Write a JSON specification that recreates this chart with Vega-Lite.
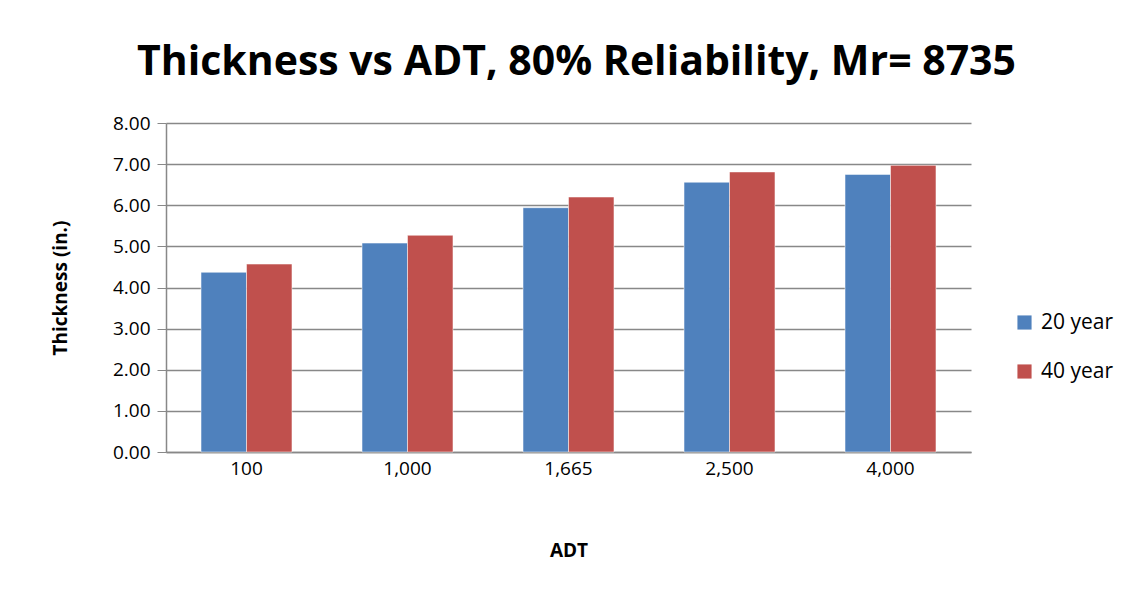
{
  "$schema": "https://vega.github.io/schema/vega-lite/v6.json",
  "autosize": {"type": "none"},
  "width": 805,
  "height": 329,
  "padding": {"left": 166, "top": 123, "right": 160, "bottom": 141},
  "background": "white",
  "title": {
    "text": "Thickness vs ADT, 80% Reliability, Mr= 8735",
    "font": "Open Sans",
    "fontSize": 41,
    "fontWeight": "bold",
    "color": "#000000",
    "anchor": "middle",
    "dx": 8,
    "offset": 30
  },
  "data": {
    "values": [
      {"ADT": "100", "Period": "20 year", "Thickness": 4.37},
      {"ADT": "100", "Period": "40 year", "Thickness": 4.57},
      {"ADT": "1,000", "Period": "20 year", "Thickness": 5.08},
      {"ADT": "1,000", "Period": "40 year", "Thickness": 5.27},
      {"ADT": "1,665", "Period": "20 year", "Thickness": 5.94},
      {"ADT": "1,665", "Period": "40 year", "Thickness": 6.2},
      {"ADT": "2,500", "Period": "20 year", "Thickness": 6.56},
      {"ADT": "2,500", "Period": "40 year", "Thickness": 6.81},
      {"ADT": "4,000", "Period": "20 year", "Thickness": 6.75},
      {"ADT": "4,000", "Period": "40 year", "Thickness": 6.97}
    ]
  },
  "mark": {"type": "bar", "stroke": "#ffffff", "strokeOpacity": 0.5, "strokeWidth": 1},
  "encoding": {
    "x": {
      "field": "ADT",
      "type": "nominal",
      "sort": null,
      "scale": {"paddingInner": 0.435, "paddingOuter": 0.2175},
      "axis": {
        "title": "ADT",
        "titleFont": "Open Sans",
        "titleFontSize": 19,
        "titleFontWeight": "bold",
        "titleColor": "#000000",
        "titlePadding": 63,
        "labelFont": "Open Sans",
        "labelFontSize": 19,
        "labelColor": "#000000",
        "labelAngle": 0,
        "labelPadding": 7,
        "ticks": false,
        "domainColor": "#888888",
        "domainWidth": 1.5,
        "grid": false
      }
    },
    "xOffset": {"field": "Period", "type": "nominal"},
    "y": {
      "field": "Thickness",
      "type": "quantitative",
      "scale": {"domain": [0, 8]},
      "axis": {
        "title": "Thickness (in.)",
        "titleFont": "Open Sans",
        "titleFontSize": 19,
        "titleFontWeight": "bold",
        "titleColor": "#000000",
        "titlePadding": 42,
        "values": [0, 1, 2, 3, 4, 5, 6, 7, 8],
        "format": ".2f",
        "labelFont": "Open Sans",
        "labelFontSize": 19,
        "labelColor": "#000000",
        "labelPadding": 7,
        "tickSize": 9,
        "tickColor": "#888888",
        "domainColor": "#888888",
        "domainWidth": 1.5,
        "gridColor": "#888888",
        "gridWidth": 1.5
      }
    },
    "color": {
      "field": "Period",
      "type": "nominal",
      "scale": {"domain": ["20 year", "40 year"], "range": ["#4F81BD", "#C0504D"]},
      "legend": {
        "title": null,
        "orient": "none",
        "legendX": 848,
        "legendY": 189,
        "symbolType": "square",
        "symbolSize": 200,
        "symbolStrokeWidth": 0,
        "labelFont": "Open Sans",
        "labelFontSize": 21,
        "labelColor": "#000000",
        "labelOffset": 6,
        "rowPadding": 27
      }
    }
  },
  "config": {
    "view": {"stroke": null}
  }
}
